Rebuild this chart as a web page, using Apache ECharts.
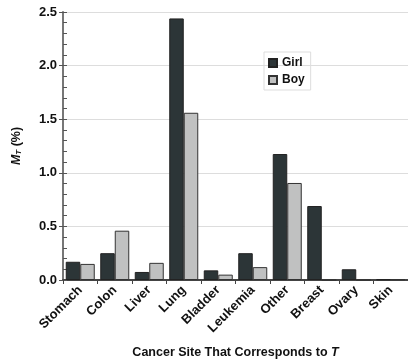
<!DOCTYPE html>
<html><head><meta charset="utf-8">
<script src="https://cdn.jsdelivr.net/npm/echarts@6/dist/echarts.min.js"></script>
<style>html,body{margin:0;padding:0;background:#fff}#c{width:408px;height:364px}</style>
</head><body><div id="c"></div>
<script>
const categories = ['Stomach','Colon','Liver','Lung','Bladder','Leukemia','Other','Breast','Ovary','Skin'];
const girl = [0.17,0.25,0.075,2.44,0.09,0.25,1.175,0.69,0.10,0.006];
const boy  = [0.15,0.46,0.16,1.56,0.05,0.12,0.905,0,0,0.006];
const yTicks = [0,0.5,1.0,1.5,2.0,2.5];

const chart = echarts.init(document.getElementById('c'));
const font = 'Liberation Sans, Arial, Helvetica, sans-serif';
chart.setOption({
  animation:false,
  textStyle:{fontFamily:font},
  grid:{left:63, top:12, width:352, height:268, containLabel:false},
  legend:{
    orient:'vertical', left:264, top:52,
    icon:'rect', itemWidth:8, itemHeight:8, itemGap:5,
    borderColor:'#ddd', borderWidth:1, padding:[5,6,4,4],
    textStyle:{fontWeight:'bold', fontSize:12, color:'#111', fontFamily:font},
    data:['Girl','Boy']
  },
  xAxis:{
    type:'category', data:categories,
    axisLine:{lineStyle:{color:'#444', width:2}},
    axisTick:{show:true, length:4, alignWithLabel:false, lineStyle:{color:'#444', width:1}},
    axisLabel:{rotate:45, fontWeight:'bold', fontSize:13, color:'#111', margin:8, interval:0, fontFamily:font},
    name:'{n|Cancer Site That Corresponds to }{i|T}',
    nameLocation:'middle', nameGap:66,
    nameTextStyle:{rich:{
      n:{fontWeight:'bold', fontSize:12.5, color:'#111', fontFamily:font},
      i:{fontWeight:'bold', fontStyle:'italic', fontSize:12.5, color:'#111', fontFamily:font}
    }}
  },
  yAxis:[{
    type:'value', min:0, max:2.5, interval:0.5,
    axisLine:{show:true, lineStyle:{color:'#777', width:2}},
    axisTick:{show:true, length:4, inside:false, lineStyle:{color:'#555'}},
    splitLine:{show:true, lineStyle:{color:'#ddd', width:1}},
    axisLabel:{fontWeight:'bold', fontSize:13, color:'#111', margin:6, fontFamily:font,
      formatter:v=>v.toFixed(1)},
    name:'{i|M}{s|T}{n| (%)}',
    nameLocation:'middle', nameGap:40, nameRotate:90,
    nameTextStyle:{rich:{
      i:{fontWeight:'bold', fontStyle:'italic', fontSize:12.5, color:'#111', fontFamily:font},
      s:{fontWeight:'bold', fontStyle:'italic', fontSize:8, color:'#111', fontFamily:font, verticalAlign:'bottom', padding:[5,0,0,0]},
      n:{fontWeight:'bold', fontSize:12.5, color:'#111', fontFamily:font}
    }}
  },{
    type:'value', min:0, max:2.5, interval:0.1, position:'left',
    axisLine:{show:false},
    axisTick:{show:true, length:4, inside:true, lineStyle:{color:'#555'}},
    splitLine:{show:false},
    axisLabel:{show:false}
  }],
  series:[
    {name:'Girl', type:'bar', data:girl, barWidth:14.5, barGap:'0%',
     itemStyle:{color:'#2c3537', borderColor:'#222', borderWidth:1}},
    {name:'Boy', type:'bar', data:boy, barWidth:14.5, barGap:'0%',
     itemStyle:{color:'#c0c1c1', borderColor:'#333', borderWidth:1}}
  ]
});
</script></body></html>
